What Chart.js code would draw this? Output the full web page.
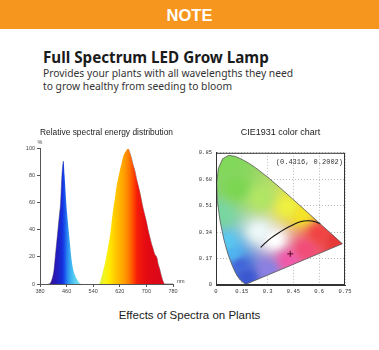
<!DOCTYPE html>
<html>
<head>
<meta charset="utf-8">
<script src="https://cdn.jsdelivr.net/npm/chart.js@4.4.1/dist/chart.umd.min.js"></script>
<style>
  body { margin: 0; width: 379px; height: 350px; background: #fff; position: relative; overflow: hidden; }
  .banner { position: absolute; left: 0; top: 0; width: 379px; height: 29px; background: #f6961e;
    color: #fff; font: bold 16.5px 'Liberation Sans', Arial, sans-serif; text-align: center; line-height: 30px; }
  .head { position: absolute; left: 43px; top: 47px; font: bold 15.2px 'Noto Sans', sans-serif; color: #1b1b1b; white-space: nowrap; }
  .sub { position: absolute; left: 43px; top: 67px; font: 10.3px 'Noto Sans', sans-serif; line-height: 13px; color: #333; white-space: nowrap; }
  .foot { position: absolute; left: 0; top: 309px; width: 379px; text-align: center; font: 11.5px 'Liberation Sans', Arial, sans-serif; color: #222; }
  canvas { position: absolute; top: 118px; }
  #spectrum { left: 0; }
  #cie { left: 190px; }
</style>
</head>
<body>
<div class="banner">NOTE</div>
<div class="head">Full Spectrum LED Grow Lamp</div>
<div class="sub">Provides your plants with all wavelengths they need<br>to grow healthy from seeding to bloom</div>
<canvas id="spectrum" width="190" height="180"></canvas>
<canvas id="cie" width="189" height="180"></canvas>
<div class="foot">Effects of Spectra on Plants</div>
<script>
// relative spectral energy (%) per wavelength (nm)
const wavelengths = [380, 405, 412, 418, 422, 426, 430, 434, 438, 442, 446, 451, 454, 459, 463, 466, 470, 474, 478, 483, 490, 495, 500, 505,
  555, 560, 565, 570, 575, 580, 585, 590, 595, 600, 605, 610, 615, 620, 625, 630, 635, 640, 645, 650, 655, 660,
  665, 670, 675, 680, 685, 690, 695, 700, 705, 710, 715, 720, 725, 728, 732, 735, 740, 745, 750, 755, 780];
const energy = [0, 0, 1, 5, 10, 20, 30, 40, 50, 60, 80, 91, 80, 60, 48, 40, 30, 20, 13, 8, 4, 2, 0.5, 0,
  0, 1, 5, 10, 15, 21, 28, 35, 45, 55, 63, 72, 78, 84, 89, 94, 97, 99, 100, 97, 93, 88,
  84, 78, 73, 68, 62, 56, 51, 46, 40, 35, 30, 26, 22, 21, 19, 15, 11, 6, 2, 0, 0];
const spectrumTicks = [380, 460, 540, 620, 700, 780];
const energyTicks = [0, 20, 40, 60, 80, 100];

// fill colours along the wavelength axis
const stopNm = [405, 425, 440, 448, 455, 462, 472, 485, 500, 552, 562, 575, 590, 605, 620, 635, 648, 660, 672, 700, 750];
const stopColor = ['#3a108a', '#2a18b4', '#1a26cc', '#1432e0', '#1a56ec', '#2a86f0', '#3cb2f2', '#5ad0f0', '#86e2ea',
  '#d4ee68', '#e0f03c', '#f4f41a', '#ffe800', '#ffcc00', '#ffb400', '#ff9a00', '#ff7800', '#ff4c00', '#f41c0a', '#e40a12', '#d8081c'];

// CIE 1931 spectral locus (x, y)
const locusX = [0.1741, 0.1733, 0.1714, 0.1689, 0.1644, 0.1566, 0.1440, 0.1355, 0.1241, 0.1096, 0.0913, 0.0687, 0.0454,
  0.0235, 0.0082, 0.0039, 0.0139, 0.0389, 0.0743, 0.1142, 0.1547, 0.1929, 0.2296, 0.3016, 0.3731, 0.4441, 0.5125,
  0.5752, 0.6270, 0.6658, 0.6915, 0.7079, 0.7190, 0.7300, 0.7347];
const locusY = [0.0050, 0.0048, 0.0051, 0.0069, 0.0109, 0.0177, 0.0297, 0.0399, 0.0578, 0.0868, 0.1327, 0.2007, 0.2950,
  0.4127, 0.5384, 0.6548, 0.7502, 0.8120, 0.8338, 0.8262, 0.8059, 0.7816, 0.7543, 0.6923, 0.6245, 0.5547, 0.4866,
  0.4242, 0.3725, 0.3340, 0.3083, 0.2920, 0.2809, 0.2700, 0.2653];
// black-body curve
const planckX = [0.260, 0.317, 0.375, 0.433, 0.490, 0.538, 0.577, 0.606];
const planckY = [0.242, 0.300, 0.343, 0.379, 0.407, 0.413, 0.407, 0.392];
// lamp chromaticity
const lampX = 0.4316;
const lampY = 0.2002;
const cieXTicks = [0, 0.15, 0.3, 0.45, 0.6, 0.75];
const cieYTicks = [0, 0.17, 0.34, 0.51, 0.68, 0.85];

// colour anchors for shading the diagram
const shadeAt = [[0.34, 0.29], [0.25, 0.34], [0.12, 0.62], [0.08, 0.78], [0.26, 0.56], [0.03, 0.45], [0.42, 0.50], [0.50, 0.45],
  [0.60, 0.33], [0.70, 0.28], [0.42, 0.16], [0.52, 0.23], [0.30, 0.10], [0.18, 0.05], [0.14, 0.13], [0.06, 0.27], [0.10, 0.20]];
const shadeRgb = [[255, 255, 255], [236, 248, 248], [124, 214, 82], [130, 216, 90], [176, 230, 100], [120, 214, 160], [238, 240, 64], [244, 228, 40],
  [240, 68, 68], [232, 56, 56], [240, 90, 170], [242, 76, 120], [140, 128, 226], [60, 88, 208], [66, 102, 216], [88, 200, 240], [80, 180, 240]];

const tickFont = { family: 'Liberation Sans', size: 5.5 };

function spectrumFill(context) {
  const { chart } = context;
  const { chartArea, scales } = chart;
  if (!chartArea) return '#f80';
  const x0 = scales.x.getPixelForValue(380);
  const x1 = scales.x.getPixelForValue(780);
  const g = chart.ctx.createLinearGradient(x0, 0, x1, 0);
  stopNm.forEach((nm, i) => g.addColorStop((nm - 380) / 400, stopColor[i]));
  return g;
}

const axisLabels = {
  id: 'axisLabels',
  afterDraw(chart) {
    const { ctx, chartArea: a } = chart;
    ctx.save();
    ctx.fillStyle = '#444';
    ctx.font = '5.5px Liberation Sans';
    ctx.textAlign = 'center';
    ctx.fillText('%', a.left, a.top - 5);
    ctx.textAlign = 'left';
    ctx.fillText('nm', a.right + 4, a.bottom - 1);
    ctx.restore();
  }
};

const spectrumPoints = wavelengths.map((w, i) => ({ x: w, y: energy[i] }));

new Chart(document.getElementById('spectrum'), {
  type: 'line',
  data: {
    datasets: [
      {
        // coloured area
        data: spectrumPoints,
        fill: 'origin',
        backgroundColor: spectrumFill,
        borderWidth: 0,
        pointRadius: 0,
        cubicInterpolationMode: 'monotone'
      },
      {
        // dark edge on the blue peak and the red tail
        data: spectrumPoints,
        fill: false,
        borderWidth: 0.8,
        segment: {
          borderColor: c => (c.p0.parsed.x >= 645 || (c.p1.parsed.x <= 452 && c.p0.parsed.x >= 405))
            ? 'rgba(30,0,20,0.55)' : 'rgba(0,0,0,0)'
        },
        pointRadius: 0,
        cubicInterpolationMode: 'monotone'
      }
    ]
  },
  options: {
    responsive: false,
    animation: false,
    layout: { padding: { left: 0, right: 17, top: 0, bottom: 0 } },
    plugins: {
      legend: { display: false },
      tooltip: { enabled: false },
      title: {
        display: true,
        fullSize: false,
        text: 'Relative spectral energy distribution',
        color: '#222',
        font: { family: 'Liberation Sans', size: 9, weight: 'normal' },
        padding: { top: 9, bottom: 11 }
      }
    },
    scales: {
      x: {
        type: 'linear', min: 380, max: 780,
        afterBuildTicks: s => { s.ticks = spectrumTicks.map(v => ({ value: v })); },
        afterFit: s => { s.height = 14; },
        grid: { drawOnChartArea: false, tickLength: 3, color: '#555' },
        border: { color: '#555', width: 1 },
        ticks: { font: tickFont, color: '#444', padding: 1, maxRotation: 0, callback: v => String(v) }
      },
      y: {
        min: 0, max: 100,
        afterBuildTicks: s => { s.ticks = energyTicks.map(v => ({ value: v })); },
        afterFit: s => { s.width = 40; },
        grid: { drawOnChartArea: false, tickLength: 3, color: '#555' },
        border: { color: '#555', width: 1 },
        ticks: { font: tickFont, color: '#444', padding: 2, callback: v => String(v) }
      }
    }
  },
  plugins: [axisLabels]
});

// blend the anchor colours by inverse distance
function shade(cx, cy) {
  let wsum = 0;
  const acc = [0, 0, 0];
  shadeAt.forEach(([ax, ay], i) => {
    const d2 = (cx - ax) ** 2 + (cy - ay) ** 2 + 1e-6;
    const w = 1 / Math.pow(d2, 1.4);
    wsum += w;
    acc[0] += w * shadeRgb[i][0]; acc[1] += w * shadeRgb[i][1]; acc[2] += w * shadeRgb[i][2];
  });
  return acc.map(c => Math.round(c / wsum));
}

const cieFill = {
  id: 'cieFill',
  beforeDatasetsDraw(chart) {
    const { ctx, chartArea: a, scales: { x, y } } = chart;
    const pts = chart.getDatasetMeta(0).data;
    const w = Math.ceil(a.right - a.left), h = Math.ceil(a.bottom - a.top);
    const off = document.createElement('canvas');
    off.width = w; off.height = h;
    const octx = off.getContext('2d');
    const img = octx.createImageData(w, h);
    for (let j = 0; j < h; j++) {
      const cy = y.getValueForPixel(a.top + j + 0.5);
      for (let i = 0; i < w; i++) {
        const cx = x.getValueForPixel(a.left + i + 0.5);
        const [r, g, b] = shade(cx, cy);
        const k = (j * w + i) * 4;
        img.data[k] = r; img.data[k + 1] = g; img.data[k + 2] = b; img.data[k + 3] = 255;
      }
    }
    octx.putImageData(img, 0, 0);
    ctx.save();
    ctx.beginPath();
    pts.forEach((p, i) => i ? ctx.lineTo(p.x, p.y) : ctx.moveTo(p.x, p.y));
    ctx.closePath();
    ctx.clip();
    ctx.filter = 'blur(1px)';
    ctx.drawImage(off, a.left, a.top);
    ctx.restore();
  },
  afterDraw(chart) {
    const { ctx, chartArea: a } = chart;
    ctx.save();
    ctx.strokeStyle = '#333';
    ctx.lineWidth = 1;
    ctx.strokeRect(a.left + 0.5, a.top + 0.5, a.right - a.left - 1, a.bottom - a.top - 1);
    ctx.fillStyle = '#333';
    ctx.font = '7px Liberation Mono';
    ctx.textAlign = 'right';
    ctx.fillText('(' + lampX.toFixed(4) + ', ' + lampY.toFixed(4) + ')', a.right - 2, a.top + 11);
    ctx.restore();
  }
};

const locus = locusX.map((v, i) => ({ x: v, y: locusY[i] }));
locus.push(locus[0]);

new Chart(document.getElementById('cie'), {
  type: 'scatter',
  data: {
    datasets: [
      { data: locus, showLine: true, borderColor: '#555', borderWidth: 0.8, pointRadius: 0 },
      { data: planckX.map((v, i) => ({ x: v, y: planckY[i] })), showLine: true, borderColor: '#111',
        borderWidth: 1.1, pointRadius: 0, tension: 0.4 },
      { data: [{ x: lampX, y: lampY }], pointStyle: 'cross', pointRadius: 3, borderColor: '#5a0a20', borderWidth: 1 }
    ]
  },
  options: {
    responsive: false,
    animation: false,
    layout: { padding: { left: 0, right: 34, top: 0, bottom: 0 } },
    plugins: {
      legend: { display: false },
      tooltip: { enabled: false },
      title: {
        display: true,
        fullSize: false,
        text: 'CIE1931 color chart',
        color: '#222',
        font: { family: 'Liberation Sans', size: 9, weight: 'normal' },
        padding: { top: 9, bottom: 15 }
      }
    },
    scales: {
      x: {
        type: 'linear', min: 0, max: 0.75,
        afterBuildTicks: s => { s.ticks = cieXTicks.map(v => ({ value: v })); },
        afterFit: s => { s.height = 13; },
        grid: { drawTicks: false, color: '#bbb' },
        border: { color: '#333', dash: [1, 2] },
        ticks: { font: { family: 'Liberation Mono', size: 5.5 }, color: '#333', padding: 3, maxRotation: 0, callback: v => String(v) }
      },
      y: {
        min: 0, max: 0.85,
        afterBuildTicks: s => { s.ticks = cieYTicks.map(v => ({ value: v })); },
        afterFit: s => { s.width = 26; },
        grid: { drawTicks: false, color: '#bbb' },
        border: { color: '#333', dash: [1, 2] },
        ticks: { font: { family: 'Liberation Mono', size: 5.5 }, color: '#333', padding: 4, callback: v => String(v) }
      }
    }
  },
  plugins: [cieFill]
});
</script>
</body>
</html>
